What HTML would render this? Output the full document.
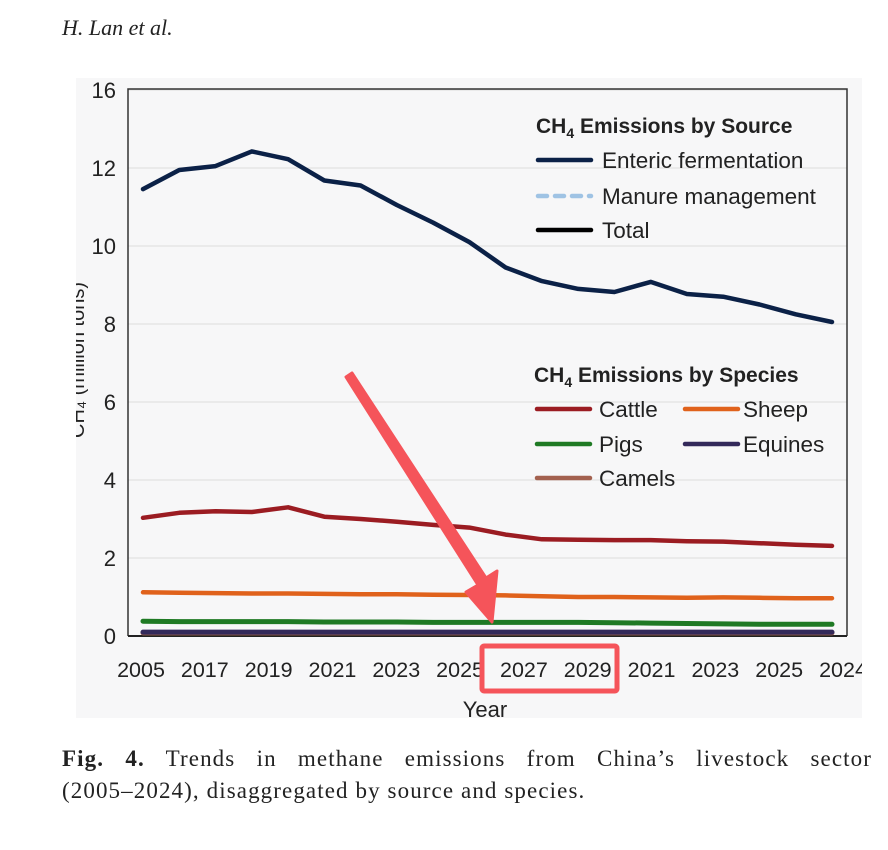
<!DOCTYPE html>
<html><head><meta charset="utf-8">
<style>
body{margin:0;width:888px;height:850px;background:#fff;overflow:hidden;position:relative;font-family:"Liberation Serif",serif}
#hdr{position:absolute;left:62px;top:15px;font-style:italic;font-size:22px;color:#222}
#cap{position:absolute;left:62px;top:743px;width:810px;font-size:23px;line-height:32px;color:#222;letter-spacing:1.1px}
#cap .l1{text-align:justify;text-align-last:justify;white-space:nowrap}
svg{position:absolute;left:0;top:0}
</style></head><body>
<div id="hdr">H. Lan et al.</div>
<svg id="chart" width="888" height="740"></svg>
<div id="cap"><div class="l1"><b>Fig. 4.</b> Trends in methane emissions from China’s livestock sector</div><div>(2005–2024), disaggregated by source and species.</div></div>
<script>
const years=[2005,2006,2007,2008,2009,2010,2011,2012,2013,2014,2015,2016,2017,2018,2019,2020,2021,2022,2023,2024];
const xTickLabels=["2005","2017","2019","2021","2023","2025","2027","2029","2021","2023","2025","2024"];
const yTickValues=[0,2,4,6,8,10,12,16];
const enteric=[11.46,11.95,12.1,12.85,12.45,11.68,11.55,11.05,10.6,10.1,9.45,9.1,8.9,8.82,9.08,8.77,8.7,8.5,8.25,8.05];
const cattle=[3.03,3.16,3.2,3.18,3.3,3.06,3.0,2.93,2.85,2.78,2.6,2.48,2.47,2.46,2.46,2.43,2.42,2.38,2.34,2.31];
const sheep=[1.12,1.11,1.1,1.09,1.09,1.08,1.07,1.07,1.06,1.05,1.04,1.02,1.0,1.0,0.99,0.98,0.99,0.98,0.97,0.97];
const pigs=[0.38,0.37,0.37,0.37,0.37,0.36,0.36,0.36,0.35,0.35,0.35,0.35,0.35,0.34,0.33,0.32,0.31,0.3,0.3,0.3];
const equines=[0.1,0.1,0.1,0.1,0.1,0.1,0.1,0.1,0.1,0.1,0.1,0.1,0.1,0.1,0.1,0.1,0.1,0.1,0.1,0.1];
const camels=[0.08,0.08,0.08,0.08,0.08,0.08,0.08,0.08,0.08,0.08,0.08,0.08,0.08,0.08,0.08,0.08,0.08,0.08,0.08,0.08];

const NS="http://www.w3.org/2000/svg";
const svg=document.getElementById('chart');
const L=128,R=847,T=89,B=636;
function y(v){return v<=12?B-v*39:168-(v-12)*19.5;}
function x(i){return 143+i*(832-143)/(years.length-1);}
function mk(tag,attrs,parent){const e=document.createElementNS(NS,tag);for(const k in attrs)e.setAttribute(k,attrs[k]);(parent||svg).appendChild(e);return e;}

let bg=mk('rect',{x:76,y:78,width:786,height:640,fill:'#f7f7f8'});


yTickValues.forEach(v=>{
  if(v>0){let g=mk('line',{x1:L,x2:R,y1:y(v),y2:y(v),stroke:'#e2e2e2','stroke-width':1.2});
  
  }
  let t=mk('text',{x:116,y:y(v)+8,'text-anchor':'end','font-family':'Liberation Sans,sans-serif','font-size':22,fill:'#222'});
  t.textContent=v;
  
  
});
let yt=mk('text',{transform:'translate(84,360) rotate(-90)','text-anchor':'middle','font-family':'Liberation Sans,sans-serif','font-size':20,fill:'#222'});
yt.textContent='CH₄ (million tons)';


let cover=mk('rect',{x:0,y:78,width:76,height:640,fill:'#fff'});


let frame=mk('path',{d:`M${L},${B} L${L},${T} L${R},${T} L${R},${B}`,fill:'none',stroke:'#333','stroke-width':1.5});


let xa=mk('line',{x1:L,x2:R,y1:B,y2:B,stroke:'#222','stroke-width':2});


xTickLabels.forEach((s,i)=>{
  let t=mk('text',{x:141+i*(843-141)/(xTickLabels.length-1),y:677,'text-anchor':'middle','font-family':'Liberation Sans,sans-serif','font-size':21.5,fill:'#222'});
  t.textContent=s;
  
  
});
let xt=mk('text',{x:485,y:717,'text-anchor':'middle','font-family':'Liberation Sans,sans-serif','font-size':22,fill:'#222'});
xt.textContent='Year';


let rc=mk('rect',{x:0,y:718,width:888,height:22,fill:'#fff'});


let rc2=mk('rect',{x:862,y:0,width:26,height:740,fill:'#fff'});



function series(arr,color,w,name){
  let d=arr.map((v,i)=>(i?'L':'M')+x(i).toFixed(1)+','+y(v).toFixed(1)).join(' ');
  let p=mk('path',{d:d,fill:'none',stroke:color,'stroke-width':w,'stroke-linejoin':'round','stroke-linecap':'round'});
  
  
}
series(camels,'#a3614f',5,'camels-line');
series(equines,'#33295a',5,'equines-line');
series(pigs,'#1f7a24',5,'pigs-line');
series(sheep,'#e0621c',4.5,'sheep-line');
series(cattle,'#9b1c22',4.5,'cattle-line');
series(enteric,'#0b2147',4.5,'enteric-fermentation-line');

function leg(x1,yy,color,label,lx,name,dash){
  let l=mk('line',{x1:x1,x2:x1+53,y1:yy,y2:yy,stroke:color,'stroke-width':4.5,'stroke-linecap':'round'});
  if(dash)l.setAttribute('stroke-dasharray','9 8');
  
  
  let t=mk('text',{x:lx,y:yy+8,'font-family':'Liberation Sans,sans-serif','font-size':22.5,fill:'#222'});
  t.textContent=label;
  
  
}
let h1=mk('text',{x:536,y:133,'font-family':'Liberation Sans,sans-serif','font-size':21,'font-weight':'bold',fill:'#222'});
h1.innerHTML='CH<tspan font-size="14" dy="5">4</tspan><tspan dy="-5"> Emissions by Source</tspan>';


leg(538,160,'#0b2147','Enteric fermentation',602,'legend-enteric');
leg(538,196,'#9fc3e4','Manure management',602,'legend-manure',true);
leg(538,230,'#000','Total',602,'legend-total');
let h2=mk('text',{x:534,y:382,'font-family':'Liberation Sans,sans-serif','font-size':21,'font-weight':'bold',fill:'#222'});
h2.innerHTML='CH<tspan font-size="14" dy="5">4</tspan><tspan dy="-5"> Emissions by Species</tspan>';


leg(537,409,'#9b1c22','Cattle',599,'legend-cattle');
leg(685,409,'#e0621c','Sheep',743,'legend-sheep');
leg(537,444,'#1f7a24','Pigs',599,'legend-pigs');
leg(685,444,'#33295a','Equines',743,'legend-equines');
leg(537,478,'#a3614f','Camels',599,'legend-camels');

let ar=mk('path',{d:'M346,377 L478,585 L466,592 L492,622 L497,571 L486,578 L352,373 Z',fill:'#f5545a',stroke:'#f5545a','stroke-width':3,'stroke-linejoin':'round'});


let bx=mk('rect',{x:482,y:646,width:135,height:45,fill:'none',stroke:'#f5545a','stroke-width':5,rx:2});


</script>
</body></html>
